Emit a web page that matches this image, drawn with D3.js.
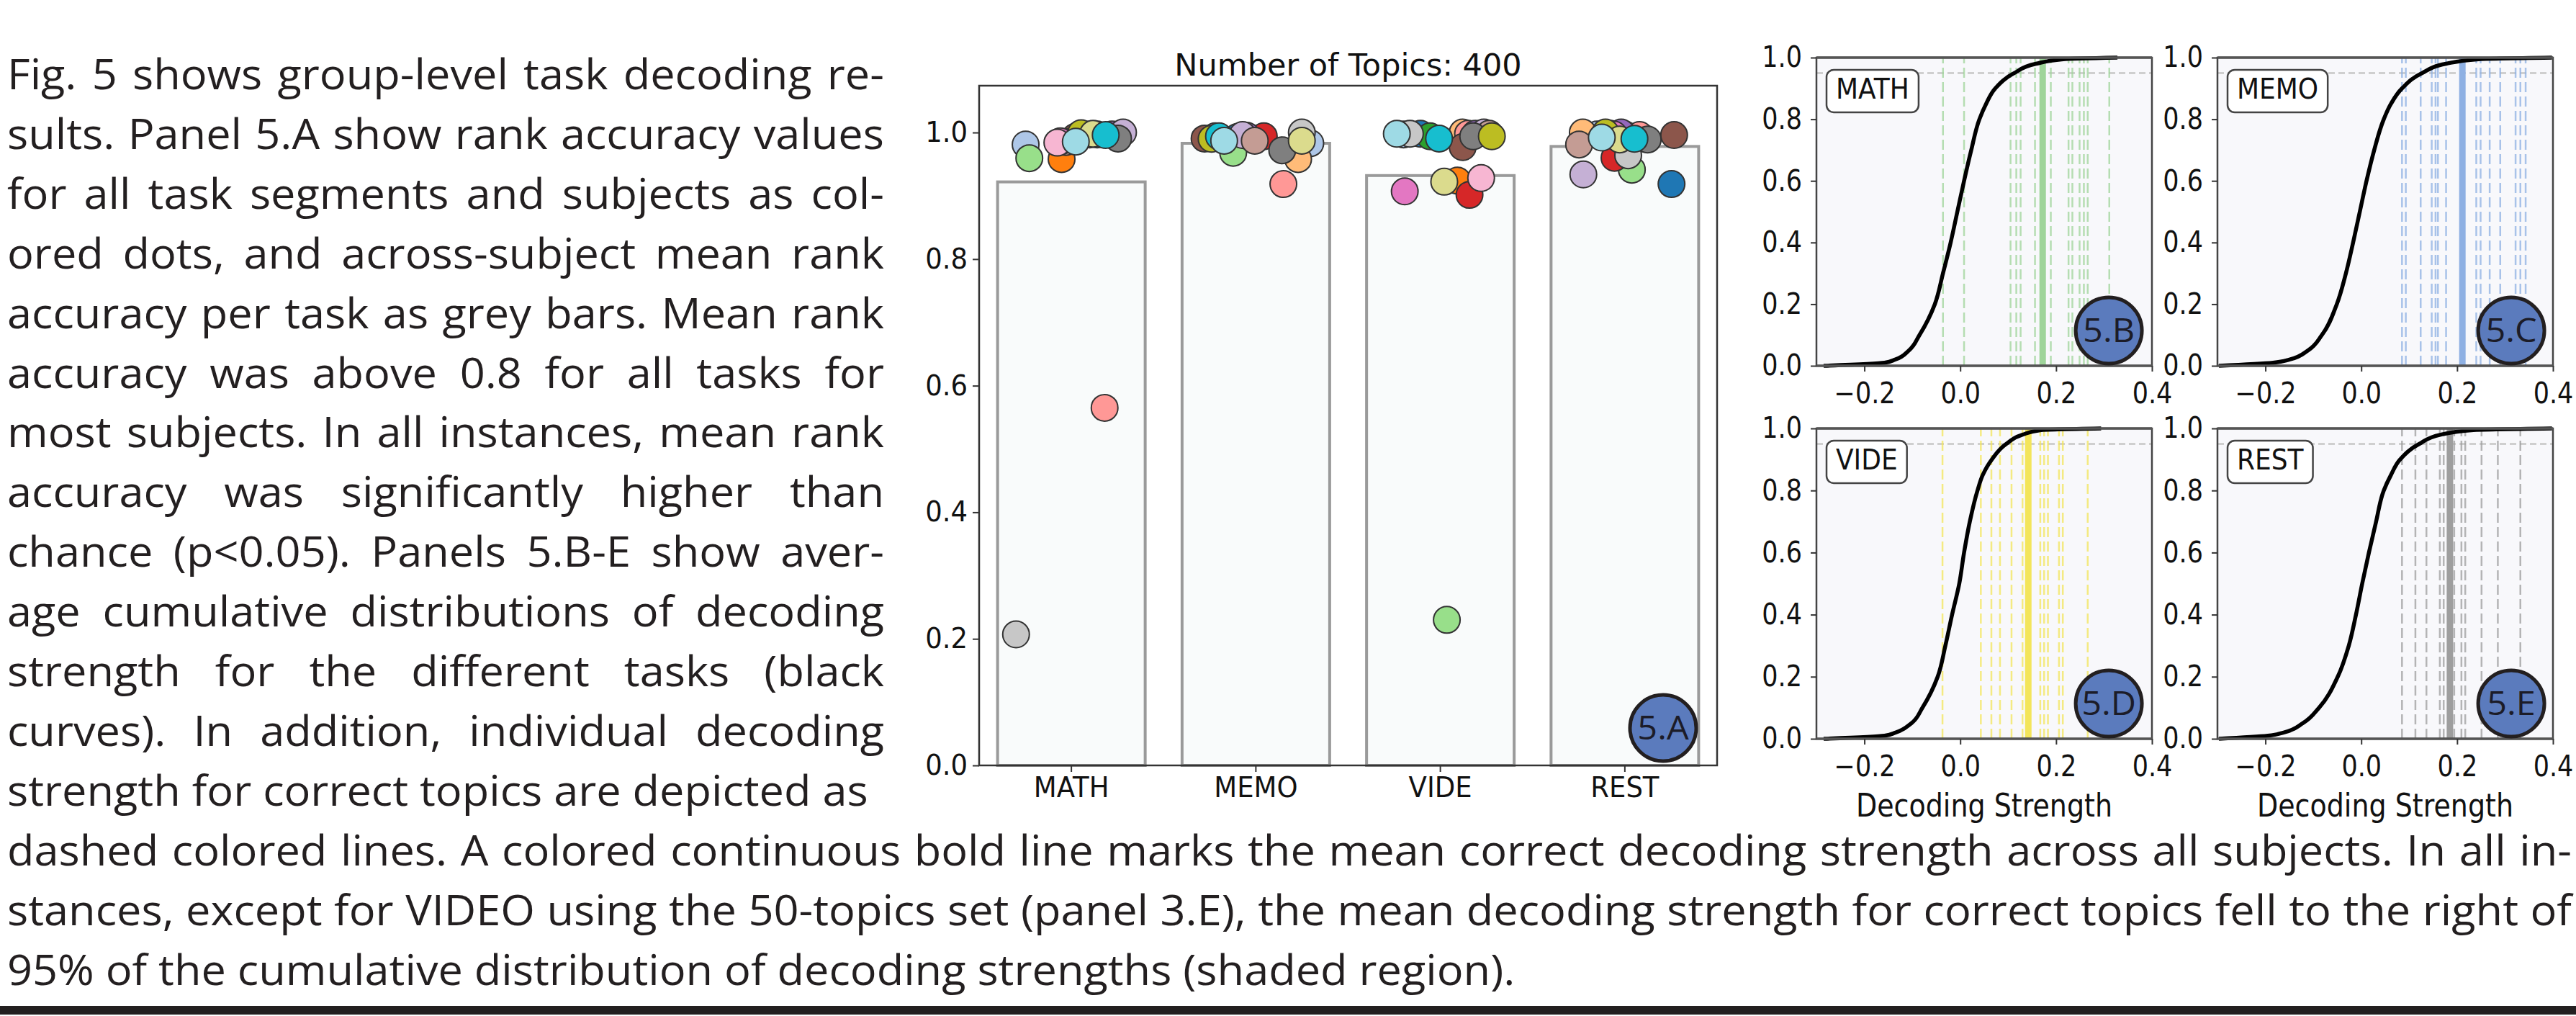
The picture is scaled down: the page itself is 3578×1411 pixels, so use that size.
<!DOCTYPE html>
<meta charset="utf-8">
<script src="https://d3js.org/d3.v7.min.js"></script>
<style>
  body { margin: 0; background: #fff; }
</style>
<svg id="fig"></svg>

<script>
// ---------- data ----------
const tasks = ["MATH", "MEMO", "VIDE", "REST"];
const meanAccuracy = [0.922, 0.983, 0.932, 0.978];
const accTicks = [0, 0.2, 0.4, 0.6, 0.8, 1.0];

// subject colours (tab20), subject i uses colour i
const tab20 = ["#1f77b4","#aec7e8","#ff7f0e","#ffbb78","#2ca02c","#98df8a","#d62728","#ff9896",
               "#9467bd","#c5b0d5","#8c564b","#c49c94","#e377c2","#f7b6d2","#7f7f7f","#c7c7c7",
               "#bcbd22","#dbdb8d","#17becf","#9edae5"];

// rank accuracy per subject, and strip-plot jitter (in category units)
const mathAcc = [0.995, 0.981, 0.958, 0.997, 0.997, 0.9595, 0.996, 0.565, 0.997, 1.0, 0.993, 0.985, 0.986, 0.984, 0.9905, 0.207, 0.999, 0.998, 0.996, 0.9856];
const mathJit = [0.05, -0.248, -0.053, 0.10, 0.14, -0.228, 0.04, 0.18, 0.22, 0.28, 0.02, -0.03, -0.06, -0.076, 0.253, -0.30, 0.053, 0.118, 0.186, 0.024];
const memoAcc = [0.993, 0.983, 0.99, 0.958, 0.992, 0.968, 0.994, 0.9186, 0.995, 0.996, 0.9905, 0.987, 0.99, 0.994, 0.972, 1.0, 0.99, 0.987, 0.994, 0.987];
const memoJit = [-0.1, 0.295, 0.0, 0.229, -0.22, -0.123, 0.043, 0.149, -0.05, -0.072, -0.278, -0.006, -0.19, -0.22, 0.143, 0.249, -0.24, 0.249, -0.2, -0.172];
const videAcc = [0.998, 0.997, 0.924, 1.0, 0.994, 0.23, 0.9015, 0.998, 0.998, 1.0, 0.977, 0.998, 0.907, 0.928, 0.994, 0.998, 0.994, 0.9223, 0.9905, 0.998];
const videJit = [-0.108, -0.2, 0.093, 0.121, -0.056, 0.035, 0.158, 0.15, 0.19, 0.236, 0.121, 0.265, -0.193, 0.221, 0.178, -0.165, 0.279, 0.021, -0.007, -0.236];
const restAcc = [0.9186, 0.997, 0.998, 1.0, 0.997, 0.9413, 0.96, 0.996, 1.0, 0.9337, 0.996, 0.981, 0.997, 0.995, 0.989, 0.964, 1.0, 0.989, 0.99, 0.992];
const restJit = [0.253, -0.15, -0.08, -0.228, 0.0, 0.038, -0.056, 0.08, -0.02, -0.225, 0.267, -0.248, -0.06, -0.1, 0.124, 0.018, -0.105, -0.028, 0.052, -0.125];

// cumulative distribution of decoding strength: x read at these levels
const cdfLevels = [0, 0.01, 0.02, 0.05, 0.1, 0.2, 0.3, 0.4, 0.5, 0.6, 0.7, 0.8, 0.85, 0.9, 0.95, 0.98, 0.995, 1];
const mathCdf = [-0.285, -0.158, -0.136, -0.107, -0.085, -0.053, -0.036, -0.020, -0.006, 0.008, 0.023, 0.040, 0.054, 0.073, 0.113, 0.158, 0.215, 0.328];
const memoCdf = [-0.297, -0.184, -0.150, -0.111, -0.082, -0.051, -0.032, -0.017, -0.003, 0.011, 0.027, 0.047, 0.062, 0.085, 0.127, 0.177, 0.245, 0.398];
const videCdf = [-0.285, -0.158, -0.135, -0.102, -0.079, -0.047, -0.031, -0.017, -0.002, 0.008, 0.020, 0.036, 0.047, 0.066, 0.096, 0.130, 0.169, 0.294];
const restCdf = [-0.297, -0.195, -0.162, -0.122, -0.088, -0.049, -0.026, -0.011, 0.002, 0.016, 0.031, 0.047, 0.062, 0.081, 0.121, 0.166, 0.234, 0.398];

// decoding strength for the correct topic, per subject, and its mean
const mathStrength = [-0.036, 0.008, 0.105, 0.117, 0.126, 0.156, 0.189, 0.226, 0.234, 0.249, 0.258, 0.266, 0.311];
const memoStrength = [0.085, 0.093, 0.124, 0.147, 0.155, 0.160, 0.177, 0.240, 0.249, 0.268, 0.290, 0.322, 0.332, 0.343];
const videStrength = [-0.037, 0.043, 0.065, 0.083, 0.107, 0.130, 0.167, 0.175, 0.183, 0.206, 0.214, 0.266];
const restStrength = [0.085, 0.113, 0.136, 0.164, 0.172, 0.194, 0.209, 0.217, 0.251, 0.285, 0.332];
const meanStrength = [0.172, 0.211, 0.142, 0.185];
const chanceLevel = 0.95;
const strengthTicks = [-0.2, 0, 0.2, 0.4];
const cdfTicks = [0, 0.2, 0.4, 0.6, 0.8, 1.0];
const panelTags = ["5.B", "5.C", "5.D", "5.E"];

const captionLeft = [
  "Fig. 5 shows group-level task decoding re-",
  "sults. Panel 5.A show rank accuracy values",
  "for all task segments and subjects as col-",
  "ored dots, and across-subject mean rank",
  "accuracy per task as grey bars. Mean rank",
  "accuracy was above 0.8 for all tasks for",
  "most subjects. In all instances, mean rank",
  "accuracy was significantly higher than",
  "chance (p<0.05). Panels 5.B-E show aver-",
  "age cumulative distributions of decoding",
  "strength for the different tasks (black",
  "curves). In addition, individual decoding",
  "strength for correct topics are depicted as"
];
const captionBottom = [
  "dashed colored lines. A colored continuous bold line marks the mean correct decoding strength across all subjects. In all in-",
  "stances, except for VIDEO using the 50-topics set (panel 3.E), the mean decoding strength for correct topics fell to the right of",
  "95% of the cumulative distribution of decoding strengths (shaded region)."
];

// ---------- setup ----------
var width = 3578, height = 1411;
var svg = d3.select("#fig").attr("width", width).attr("height", height);
svg.append("rect").attr("width", width).attr("height", height).attr("fill", "#fff");

const ink = "#231f20";
const bodyFont = "'Open Sans', sans-serif";
const mplFont = "'DejaVu Sans', sans-serif";
const taskColors = ["#9fd49a", "#8eb0e3", "#f3e55a", "#9e9e9e"];

// ---------- caption text (Myriad-like, justified) ----------
const bodySize = 58;
var probe = svg.append("text").attr("font-family", bodyFont).attr("font-size", bodySize)
  .text(captionLeft[captionLeft.length - 1]);
var k = 1196 / probe.node().getComputedTextLength();   // horizontal squeeze to mimic Myriad
probe.remove();

function captionLine(str, x, y, w, justify) {
  var g = svg.append("g").attr("transform", `translate(${x},${y}) scale(${k},1)`);
  var t = g.append("text").attr("font-family", bodyFont).attr("font-size", bodySize)
    .attr("fill", ink).text(str);
  if (justify) {
    var nat = t.node().getComputedTextLength();
    var gaps = (str.match(/ /g) || []).length;
    t.style("word-spacing", ((w / k - nat) / gaps) + "px");
  }
}
const lead = 82.9, firstBase = 124;
captionLeft.forEach((s, i) => captionLine(s, 10, firstBase + i * lead, 1218, i < captionLeft.length - 1));
captionBottom.forEach((s, i) => captionLine(s, 10, firstBase + (captionLeft.length + i) * lead, 3562, i < captionBottom.length - 1));

svg.append("rect").attr("x", 0).attr("y", 1397).attr("width", width).attr("height", 12).attr("fill", ink);

function badge(cx, cy, r, label) {
  svg.append("circle").attr("cx", cx).attr("cy", cy).attr("r", r)
    .attr("fill", "#5b7bbd").attr("stroke", ink).attr("stroke-width", 5);
  svg.append("g").attr("transform", `translate(${cx},${cy + 16}) scale(${k},1)`)
    .append("text").attr("text-anchor", "middle").attr("font-family", bodyFont)
    .attr("font-size", 46).attr("fill", "#1c1c28").text(label);
}

function styleAxis(g, size, sy) {
  g.select(".domain").remove();
  g.selectAll(".tick line").attr("stroke", "#333").attr("stroke-width", 2);
  g.selectAll(".tick text").attr("font-family", mplFont).attr("font-size", size)
    .attr("fill", "#111").attr("transform", `scale(1,${sy})`);
}

// ---------- panel 5.A : rank accuracy ----------
const A = { left: 1360, right: 2385, top: 119, bottom: 1063 };
var x = d3.scaleBand().domain(tasks).range([A.left, A.right]).paddingInner(0.2).paddingOuter(0.1);
var y = d3.scaleLinear().domain([0, 1.074]).range([A.bottom, A.top]);

svg.append("g").selectAll("rect").data(tasks).enter().append("rect")
  .attr("x", d => x(d)).attr("width", x.bandwidth())
  .attr("y", (d, i) => y(meanAccuracy[i])).attr("height", (d, i) => y(0) - y(meanAccuracy[i]))
  .attr("fill", "#f9fbfb").attr("stroke", "#9a9a9a").attr("stroke-width", 4);

const accBySubject = [mathAcc, memoAcc, videAcc, restAcc];
const jitBySubject = [mathJit, memoJit, videJit, restJit];
var dots = [];
tasks.forEach((t, ti) => accBySubject[ti].forEach((v, si) =>
  dots.push({ task: t, subject: si, v: v, j: jitBySubject[ti][si] })));
dots.sort((a, b) => a.subject - b.subject);   // later subjects drawn on top
svg.append("g").selectAll("circle").data(dots).enter().append("circle")
  .attr("cx", d => x(d.task) + x.bandwidth() / 2 + d.j * x.step())
  .attr("cy", d => y(d.v)).attr("r", 18.5)
  .attr("fill", d => tab20[d.subject]).attr("stroke", "#333").attr("stroke-width", 2);

svg.append("rect").attr("x", A.left).attr("y", A.top).attr("width", A.right - A.left)
  .attr("height", A.bottom - A.top).attr("fill", "none").attr("stroke", "#333").attr("stroke-width", 2.5);

svg.append("g").attr("transform", `translate(${A.left},0)`)
  .call(d3.axisLeft(y).tickValues(accTicks).tickFormat(d3.format(".1f")).tickSize(9).tickPadding(7))
  .call(g => styleAxis(g, 37, 1.05));
svg.append("g").attr("transform", `translate(0,${A.bottom})`)
  .call(d3.axisBottom(x).tickSize(9).tickPadding(7))
  .call(g => styleAxis(g, 37, 1.05));

svg.append("text").attr("x", (A.left + A.right) / 2).attr("y", 105).attr("text-anchor", "middle")
  .attr("font-family", mplFont).attr("font-size", 43).attr("fill", "#111")
  .text("Number of Topics: 400");

badge(2310, 1011, 46, "5.A");

// ---------- panels 5.B-E : cumulative distributions ----------
const cdfByTask = [mathCdf, memoCdf, videCdf, restCdf];
const strengthByTask = [mathStrength, memoStrength, videStrength, restStrength];
const cols = [2523, 3080], rows = [[80, 508], [595, 1026]], pw = 466;

tasks.forEach((task, i) => {
  var c = i % 2, r = Math.floor(i / 2);
  var x0 = cols[c], top = rows[r][0], bot = rows[r][1];
  var xs = d3.scaleLinear().domain([-0.3, 0.4]).range([x0, x0 + pw]);
  var ys = d3.scaleLinear().domain([0, 1]).range([bot, top]);
  var p = svg.append("g");

  p.append("rect").attr("x", x0).attr("y", top).attr("width", pw).attr("height", bot - top).attr("fill", "#f8f8fb");
  p.append("line").attr("x1", x0).attr("x2", x0 + pw).attr("y1", ys(chanceLevel)).attr("y2", ys(chanceLevel))
    .attr("stroke", "#cfcfcf").attr("stroke-width", 3).attr("stroke-dasharray", "9,5");

  p.append("g").selectAll("line").data(strengthByTask[i]).enter().append("line")
    .attr("x1", d => xs(d)).attr("x2", d => xs(d)).attr("y1", ys(0)).attr("y2", ys(1))
    .attr("stroke", taskColors[i]).attr("stroke-opacity", 0.75).attr("stroke-width", 2.5)
    .attr("stroke-dasharray", "14,6");
  p.append("line").attr("x1", xs(meanStrength[i])).attr("x2", xs(meanStrength[i]))
    .attr("y1", ys(0)).attr("y2", ys(1)).attr("stroke", taskColors[i]).attr("stroke-width", 9);

  var pts = cdfByTask[i].map((v, j) => [v, cdfLevels[j]]);
  p.append("path").datum(pts)
    .attr("d", d3.line().x(d => xs(d[0])).y(d => ys(d[1])).curve(d3.curveMonotoneY))
    .attr("fill", "none").attr("stroke", "#000").attr("stroke-width", 5.5);

  p.append("rect").attr("x", x0).attr("y", top).attr("width", pw).attr("height", bot - top)
    .attr("fill", "none").attr("stroke", "#444").attr("stroke-width", 2.5);
  [0, 1].forEach(v => p.append("line").attr("x1", x0).attr("x2", x0 + pw)
    .attr("y1", ys(v)).attr("y2", ys(v)).attr("stroke", "#555").attr("stroke-width", 3.5));

  p.append("g").attr("transform", `translate(${x0},0)`)
    .call(d3.axisLeft(ys).tickValues(cdfTicks).tickFormat(d3.format(".1f")).tickSize(8).tickPadding(12))
    .call(g => styleAxis(g, 35, 1.15));
  p.append("g").attr("transform", `translate(0,${bot})`)
    .call(d3.axisBottom(xs).tickValues(strengthTicks).tickFormat(d3.format(".1f")).tickSize(8).tickPadding(12))
    .call(g => styleAxis(g, 35, 1.15));

  // task label in a rounded box
  var box = p.append("rect");
  var lab = p.append("g").attr("transform", `translate(${x0 + 27},${top + 57}) scale(1,1.08)`)
    .append("text").attr("font-family", mplFont).attr("font-size", 36).attr("fill", "#111").text(task);
  var bw = lab.node().getComputedTextLength();
  box.attr("x", x0 + 14).attr("y", top + 17).attr("width", bw + 26).attr("height", 59)
    .attr("rx", 10).attr("fill", "#fff").attr("stroke", "#444").attr("stroke-width", 2.5);

  if (r === 1) {
    p.append("g").attr("transform", `translate(${x0 + pw / 2},1134) scale(1,1.15)`)
      .append("text").attr("text-anchor", "middle").attr("font-family", mplFont)
      .attr("font-size", 38).attr("fill", "#111").text("Decoding Strength");
  }

  badge(xs(0.31) - (c === 1 ? -2 : 0), bot - 49, 46, panelTags[i]);
});
</script>
